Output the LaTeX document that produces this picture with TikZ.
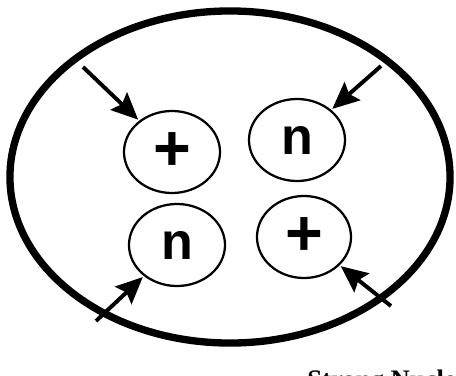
\documentclass[tikz,border=0pt]{standalone}
\usepackage{fontspec}
\setmainfont{Liberation Serif}
\newfontfamily\labelfont{Liberation Sans}
\usetikzlibrary{positioning,arrows.meta,shapes.geometric}

\begin{document}
\begin{tikzpicture}[
x=0.025cm,y=-0.025cm,
nucleon/.style={draw,ellipse,line width=1.6pt,minimum width=2.4cm,minimum height=2.05cm,inner sep=0pt,font=\labelfont\bfseries\fontsize{37}{37}\selectfont},
proton/.style={nucleon,font=\labelfont\bfseries\fontsize{46}{46}\selectfont},
push/.style={-{Stealth[length=19pt,width=17pt,inset=3pt]},line width=2.8pt,shorten >=1pt},
>=Stealth]
\useasboundingbox (0,0) rectangle (456,376);
\clip (0,0) rectangle (456,376);
% outer boundary
\node (atom) [draw,ellipse,line width=5.2pt,minimum width=11.0cm,minimum height=8.3cm] at (230,177) {};
% the four nucleons
\node (p1) [proton] at (172,152) {+};
\node (n1) [nucleon] at (297,140) {n};
\node (n2) [nucleon] at (177,245) {n};
\node (p2) [proton,minimum width=2.35cm] at (304,237) {+};
% arrow tails
\coordinate (a1) at (83,67);
\coordinate (a2) at (381,66);
\coordinate (a3) at (96,321);
\coordinate (a4) at (391,306);
\draw[push] (a1)--(p1);
\draw[push] (a2)--(n1);
\draw[push] (a3)--(n2);
\draw[push] (a4)--(p2);
\node (force) [anchor=north west,inner sep=0pt,font=\bfseries\fontsize{19}{19}\selectfont] at (307,370) {Strong Nuclear Force};
\end{tikzpicture}
\end{document}
